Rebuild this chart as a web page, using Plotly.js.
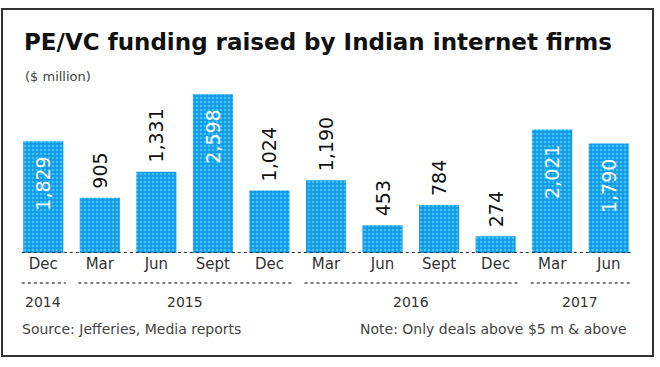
<!DOCTYPE html>
<html>
<head>
<meta charset="utf-8">
<script src="https://cdn.plot.ly/plotly-3.0.1.min.js"></script>
<style>
html,body{margin:0;padding:0;background:#fff;}
#chart{width:660px;height:367px;}
</style>
</head>
<body>
<div id="chart"></div>
<script>
// Data
var periods = ["Dec 2014","Mar 2015","Jun 2015","Sept 2015","Dec 2015","Mar 2016","Jun 2016","Sept 2016","Dec 2016","Mar 2017","Jun 2017"];
var months = ["Dec","Mar","Jun","Sept","Dec","Mar","Jun","Sept","Dec","Mar","Jun"];
var funding = [1829, 905, 1331, 2598, 1024, 1190, 453, 784, 274, 2021, 1790];
var labelPlacement = ["inside","outside","outside","inside","outside","outside","outside","outside","outside","inside","inside"];
var yearGroups = [
  {year:"2014", first:0, last:0},
  {year:"2015", first:1, last:4},
  {year:"2016", first:5, last:8},
  {year:"2017", first:9, last:10}
];
var titleText = "PE/VC funding raised by Indian internet firms";
var unitText = "($ million)";
var sourceText = "Source: Jefferies, Media reports";
var noteText = "Note: Only deals above $5 m & above";

var idx = periods.map(function(_, i){ return i; });
var PAD_IN = "\u00a0\u00a0";
var PAD_OUT = "\u00a0";

var trace = {
  type: "bar",
  x: idx,
  y: funding,
  text: funding.map(function(v, i){
    var s = v.toLocaleString("en-US");
    return labelPlacement[i] === "inside" ? s + PAD_IN : PAD_OUT + s;
  }),
  textposition: labelPlacement,
  textangle: -90,
  constraintext: "none",
  insidetextanchor: "end",
  insidetextfont: {family: "DejaVu Sans", size: 19, color: "#ffffff"},
  outsidetextfont: {family: "DejaVu Sans", size: 19, color: "#111111"},
  cliponaxis: false,
  marker: {
    color: "#14a3ea",
    line: {width: 0},
    pattern: {shape: ".", fgcolor: "#3cc6f6", bgcolor: "#1598e6", size: 4, solidity: 0.35}
  },
  hoverinfo: "skip"
};

var H = 173; // plot height in px
function py(p){ return (253 - p) / H; }

var shapes = [{
  type: "line", xref: "paper", yref: "y",
  x0: 0.011, x1: 0.99, y0: 0, y1: 0,
  line: {color: "#333", width: 2, dash: "dot"}
}];
var annotations = [];
yearGroups.forEach(function(g){
  shapes.push({
    type: "line", xref: "x", yref: "paper",
    x0: g.first - 0.38, x1: g.last + 0.4, y0: py(283), y1: py(283),
    line: {color: "#555", width: 1.5, dash: "dot"}
  });
  annotations.push({
    xref: "x", yref: "paper",
    x: (g.first + g.last) / 2,
    y: py(302), xanchor: "center", yanchor: "middle",
    text: g.year, showarrow: false,
    font: {family: "DejaVu Sans", size: 14, color: "#333"}
  });
});
annotations.push({
  xref: "paper", yref: "paper", x: 8/622, y: py(76),
  xanchor: "left", yanchor: "middle", text: unitText, showarrow: false,
  font: {family: "DejaVu Sans", size: 13, color: "#444"}
});
annotations.push({
  xref: "paper", yref: "paper", x: 5/622, y: py(329),
  xanchor: "left", yanchor: "middle", text: sourceText, showarrow: false,
  font: {family: "DejaVu Sans", size: 14, color: "#444"}
});
annotations.push({
  xref: "paper", yref: "paper", x: 614/622, y: py(329),
  xanchor: "right", yanchor: "middle", text: noteText, showarrow: false,
  font: {family: "DejaVu Sans", size: 14, color: "#444"}
});
shapes.push({
  type: "rect", xref: "paper", yref: "paper",
  x0: -13/622, x1: 638/622, y0: py(356), y1: py(9),
  line: {color: "#333", width: 2}
});

var layout = {
  width: 660, height: 367,
  margin: {l: 15, r: 23, t: 80, b: 114},
  paper_bgcolor: "#fff", plot_bgcolor: "#fff",
  showlegend: false,
  bargap: 0.29,
  title: {
    text: "<b>" + titleText + "</b>",
    xref: "container", yref: "container",
    x: 24/660, xanchor: "left", y: 1 - 42/367, yanchor: "middle",
    font: {family: "DejaVu Sans", size: 23, color: "#111"}
  },
  xaxis: {
    range: [-0.5, 10.5],
    tickmode: "array", tickvals: idx, ticktext: months,
    tickfont: {family: "DejaVu Sans", size: 15, color: "#333"},
    showgrid: false, zeroline: false, showline: false, ticks: "",
    fixedrange: true
  },
  yaxis: {
    range: [0, 2831],
    visible: false, showgrid: false, zeroline: false, fixedrange: true
  },
  shapes: shapes,
  annotations: annotations
};

Plotly.newPlot("chart", [trace], layout, {displayModeBar: false, staticPlot: true});
</script>
</body>
</html>
